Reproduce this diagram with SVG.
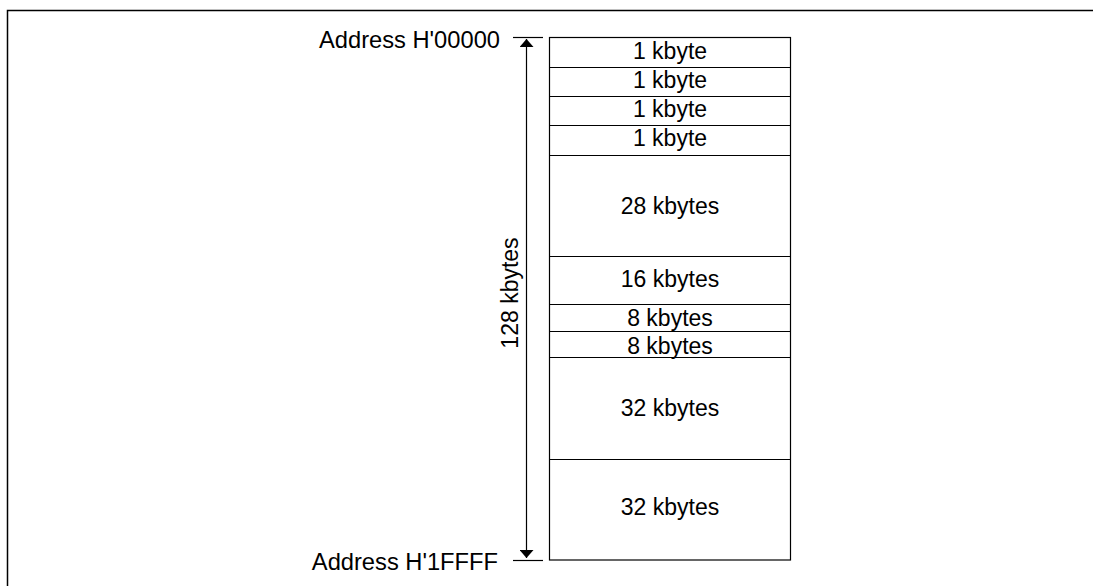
<svg xmlns="http://www.w3.org/2000/svg" width="1093" height="586" viewBox="0 0 1093 586">
<style>
text{font-family:"Liberation Sans",Arial,sans-serif;font-size:23px;fill:#000}
.c{text-anchor:middle}
.e{text-anchor:end;font-size:23.7px}
.ln{stroke:#000;stroke-width:1.2;fill:none}
</style>
<defs>
<marker id="ah" viewBox="0 0 10 10" refX="10" refY="5" markerWidth="8" markerHeight="14" markerUnits="userSpaceOnUse" orient="auto" preserveAspectRatio="none">
<path d="M0,0 L10,5 L0,10 Z" fill="#000"/>
</marker>
</defs>
<rect width="1093" height="586" fill="#fff"/>
<g id="frame"><path d="M7.5,586 V10.5 H1093" stroke="#000" stroke-width="1.5" fill="none"/></g>
<g id="memory">
<rect x="549.5" y="37.5" width="241" height="522.5" class="ln"/>
<g id="b1"><text class="c" x="670" y="59">1 kbyte</text></g>
<line x1="549.5" y1="67.5" x2="790.5" y2="67.5" class="ln"/>
<g id="b2"><text class="c" x="670" y="88">1 kbyte</text></g>
<line x1="549.5" y1="96.5" x2="790.5" y2="96.5" class="ln"/>
<g id="b3"><text class="c" x="670" y="117">1 kbyte</text></g>
<line x1="549.5" y1="125.5" x2="790.5" y2="125.5" class="ln"/>
<g id="b4"><text class="c" x="670" y="146">1 kbyte</text></g>
<line x1="549.5" y1="155.5" x2="790.5" y2="155.5" class="ln"/>
<g id="b5"><text class="c" x="670" y="214">28 kbytes</text></g>
<line x1="549.5" y1="256.5" x2="790.5" y2="256.5" class="ln"/>
<g id="b6"><text class="c" x="670" y="287">16 kbytes</text></g>
<line x1="549.5" y1="304.5" x2="790.5" y2="304.5" class="ln"/>
<g id="b7"><text class="c" x="670" y="326">8 kbytes</text></g>
<line x1="549.5" y1="331.5" x2="790.5" y2="331.5" class="ln"/>
<g id="b8"><text class="c" x="670" y="354">8 kbytes</text></g>
<line x1="549.5" y1="357.5" x2="790.5" y2="357.5" class="ln"/>
<g id="b9"><text class="c" x="670" y="416">32 kbytes</text></g>
<line x1="549.5" y1="459.5" x2="790.5" y2="459.5" class="ln"/>
<g id="b10"><text class="c" x="670" y="515">32 kbytes</text></g>
</g>
<g id="addr-top"><text class="e" x="500" y="48">Address H'00000</text></g>
<g id="addr-bottom"><text class="e" x="498" y="570">Address H'1FFFF</text></g>
<g id="size-label"><text class="c" transform="translate(518,293) rotate(-90)">128 kbytes</text></g>
<g id="connectors">
<line x1="513" y1="37.5" x2="543" y2="37.5" class="ln"/>
<line x1="513" y1="560.5" x2="543" y2="560.5" class="ln"/>
<line x1="526.5" y1="300" x2="526.5" y2="39" class="ln" marker-end="url(#ah)"/>
<line x1="526.5" y1="300" x2="526.5" y2="558" class="ln" marker-end="url(#ah)"/>
</g>
</svg>
